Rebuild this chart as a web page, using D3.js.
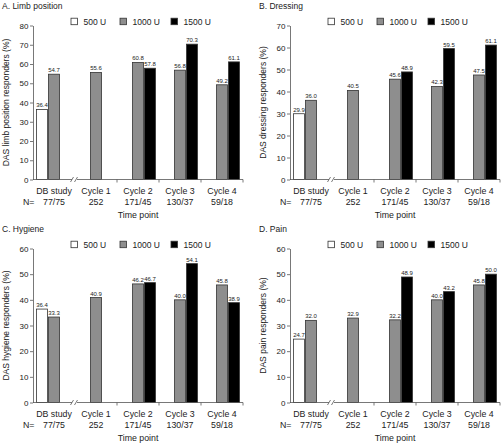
<!DOCTYPE html>
<html><head><meta charset="utf-8">
<script src="https://cdn.jsdelivr.net/npm/d3@7"></script>
<style>body{margin:0;background:#fff}svg{display:block;font-family:"Liberation Sans",Arial,sans-serif}</style>
</head><body><svg id="c" width="502" height="445"></svg>
<script>
const categories = ["DB study","Cycle 1","Cycle 2","Cycle 3","Cycle 4"];
const nLabels = ["77/75","252","171/45","130/37","59/18"];
const series = ["500 U","1000 U","1500 U"];
const seriesColors = ["#ffffff","#8e8e8e","#000000"];
const panelTitles = ["A. Limb position","B. Dressing","C. Hygiene","D. Pain"];
const yTitles = ["DAS limb position responders (%)","DAS dressing responders (%)","DAS hygiene responders (%)","DAS pain responders (%)"];
const yMax = [80,70,60,60];

const limb500  = [36.4,null,null,null,null];
const limb1000 = [54.7,55.6,60.8,56.8,49.2];
const limb1500 = [null,null,57.8,70.3,61.1];
const dress500  = [29.9,null,null,null,null];
const dress1000 = [36.0,40.5,45.6,42.3,47.5];
const dress1500 = [null,null,48.9,59.5,61.1];
const hyg500  = [36.4,null,null,null,null];
const hyg1000 = [33.3,40.9,46.2,40.0,45.8];
const hyg1500 = [null,null,46.7,54.1,38.9];
const pain500  = [24.7,null,null,null,null];
const pain1000 = [32.0,32.9,32.2,40.0,45.8];
const pain1500 = [null,null,48.9,43.2,50.0];

const panelData = [[limb500,limb1000,limb1500],[dress500,dress1000,dress1500],[hyg500,hyg1000,hyg1500],[pain500,pain1000,pain1500]];
const offsets = [[0,0],[257,0],[0,223],[257,223]];

const svg = d3.select("#c");
const X0 = 33, W = 210, TOP = 25.5, BOT = 179.5;
const FS = 8.5;

panelData.forEach((pd, i) => {
  const g = svg.append("g").attr("transform", `translate(${offsets[i][0]},${offsets[i][1]})`);
  const x = d3.scaleBand().domain(categories).range([X0, X0 + W]).padding(0);
  const xs = d3.scaleBand().domain(series).range([-18, 18]).padding(0);
  const y = d3.scaleLinear().domain([0, yMax[i]]).range([BOT, TOP]);

  g.append("text").attr("x", 2).attr("y", 9).attr("font-size", FS).attr("fill", "#222").text(panelTitles[i]);

  // legend
  const legX = [38, 87, 138];
  series.forEach((s, k) => {
    g.append("rect").attr("x", X0 + legX[k]).attr("y", 18.2).attr("width", 6.5).attr("height", 6.5)
      .attr("fill", seriesColors[k]).attr("stroke", "#333").attr("stroke-width", 0.8);
    g.append("text").attr("x", X0 + legX[k] + 12.5).attr("y", 24.5).attr("font-size", FS).attr("fill", "#222").text(s);
  });

  // y axis
  const ya = g.append("g").attr("transform", `translate(${X0},0)`)
    .call(d3.axisLeft(y).ticks(yMax[i] / 10).tickSize(3).tickPadding(1.5).tickSizeOuter(0));
  ya.selectAll("text").attr("font-size", 8).attr("fill", "#222").attr("font-family", "Liberation Sans, Arial, sans-serif");
  ya.selectAll("line,path").attr("stroke", "#555").attr("stroke-width", 0.8);

  g.append("text").attr("transform", `translate(${X0 - 24},${(TOP + BOT) / 2}) rotate(-90)`)
    .attr("text-anchor", "middle").attr("font-size", FS).attr("fill", "#222").text(yTitles[i]);

  // bars
  pd.forEach((vals, k) => {
    const items = categories.map((c, j) => ({c, v: vals[j]})).filter(d => d.v != null);
    g.selectAll(null).data(items).enter().append("rect")
      .attr("x", d => x(d.c) + x.bandwidth() / 2 + xs(series[k]) + 0.5)
      .attr("width", xs.bandwidth() - 1)
      .attr("y", d => y(d.v))
      .attr("height", d => BOT - y(d.v))
      .attr("fill", seriesColors[k]).attr("stroke", "#333").attr("stroke-width", 0.8);
    g.selectAll(null).data(items).enter().append("text")
      .attr("x", d => x(d.c) + x.bandwidth() / 2 + xs(series[k]) + xs.bandwidth() / 2)
      .attr("y", d => y(d.v) - 2)
      .attr("text-anchor", "middle").attr("font-size", 6).attr("fill", "#222")
      .text(d => d.v.toFixed(1));
  });

  // x axis with break
  const brk = x(categories[1]);
  const ax = g.append("g").attr("stroke", "#555").attr("stroke-width", 0.8).attr("fill", "none");
  ax.append("line").attr("x1", X0).attr("x2", brk - 3).attr("y1", BOT).attr("y2", BOT);
  ax.append("line").attr("x1", brk + 2).attr("x2", X0 + W).attr("y1", BOT).attr("y2", BOT);
  [-3, 1].forEach(dx => ax.append("line").attr("x1", brk + dx - 1.5).attr("x2", brk + dx + 1.5).attr("y1", BOT + 2.5).attr("y2", BOT - 2.5));
  categories.slice(2).forEach(c => ax.append("line").attr("x1", x(c)).attr("x2", x(c)).attr("y1", BOT).attr("y2", BOT + 3));
  ax.append("line").attr("x1", X0 + W).attr("x2", X0 + W).attr("y1", BOT).attr("y2", BOT + 3);

  categories.forEach((c, j) => {
    const cx = x(c) + x.bandwidth() / 2;
    g.append("text").attr("x", cx).attr("y", BOT + 14).attr("text-anchor", "middle").attr("font-size", 8.8).attr("fill", "#222").text(c);
    g.append("text").attr("x", cx).attr("y", BOT + 25.5).attr("text-anchor", "middle").attr("font-size", 8.8).attr("fill", "#222").text(nLabels[j]);
  });
  g.append("text").attr("x", X0 - 10).attr("y", BOT + 25.5).attr("font-size", 8.8).attr("fill", "#222").text("N=");
  g.append("text").attr("x", X0 + W / 2).attr("y", BOT + 38).attr("text-anchor", "middle").attr("font-size", 8.8).attr("fill", "#222").text("Time point");
});
</script></body></html>
